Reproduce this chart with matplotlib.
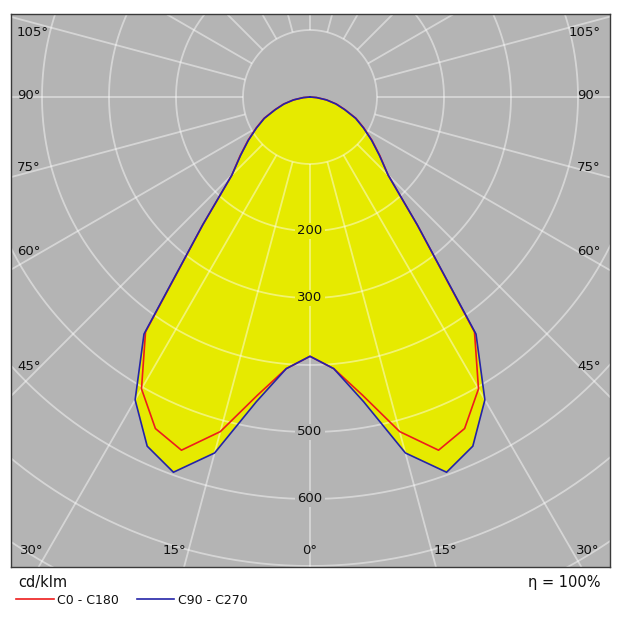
import numpy as np
import matplotlib
matplotlib.use("Agg")
import matplotlib.pyplot as plt
from matplotlib.path import Path

# ---- data (cd/klm) ----
gamma = [0, 5, 10, 15, 20, 25, 30, 35, 40, 45, 50, 55, 60, 65, 70, 75, 80, 85, 90]
c0_c180 = [387, 407, 452, 517, 561, 546, 503, 428, 249, 165, 136, 113, 93, 76, 56, 41, 25, 10, 0]
c90_c270 = [387, 407, 462, 550, 596, 575, 522, 432, 249, 165, 135, 112, 92, 75, 55, 40, 25, 10, 0]
series_labels = ["C0 - C180", "C90 - C270"]
radial_ticks = [200, 300, 500, 600]
side_angle_labels = [105, 90, 75, 60, 45]
bottom_angle_labels = [30, 15, 0, 15, 30]
unit_label = "cd/klm"
eta_label = "η = 100%"

# ---- style ----
BG = "#b4b4b4"
YELLOW = "#e6ea00"
RED = "#ee1c1c"
BLUE = "#2424a8"

W, H = 624, 640
fig = plt.figure(figsize=(W / 100, H / 100), dpi=100)
fig.patch.set_facecolor("white")

# axes pixel box
L_px, R_px, T_px, B_px = 11, 610, 14, 566.5
cx_px, cy_px, scale = 310.0, 97.0, 0.67
ax = fig.add_axes([L_px / W, 1 - B_px / H, (R_px - L_px) / W, (B_px - T_px) / H])
ax.set_facecolor(BG)
ax.set_xlim(-(cx_px - L_px) / scale, (R_px - cx_px) / scale)
ax.set_ylim(-(B_px - cy_px) / scale, (cy_px - T_px) / scale)
ax.set_xticks([])
ax.set_yticks([])
for sp in ax.spines.values():
    sp.set_color("#3a3a3a")
    sp.set_linewidth(1.0)


def curve_xy(vals):
    g = np.deg2rad(np.array(gamma, dtype=float))
    v = np.array(vals, dtype=float)
    xl = -v[::-1] * np.sin(g[::-1])
    yl = -v[::-1] * np.cos(g[::-1])
    xr = v[1:] * np.sin(g[1:])
    yr = -v[1:] * np.cos(g[1:])
    return np.concatenate([xl, xr]), np.concatenate([yl, yr])


xb, yb = curve_xy(c90_c270)
xr, yr = curve_xy(c0_c180)

ax.fill(xb, yb, color=YELLOW, lw=0, zorder=1)
ax.fill(xr, yr, color=YELLOW, lw=0, zorder=1)

# ---- grid ----
gc = dict(color="white", alpha=0.45, lw=1.3, zorder=2, solid_capstyle="butt")
t = np.linspace(0, 2 * np.pi, 721)
for r in range(100, 900, 100):
    ax.plot(r * np.cos(t), r * np.sin(t), **gc)
for a in range(0, 360, 15):
    ar = np.deg2rad(a)
    ax.plot([100 * np.sin(ar), 1200 * np.sin(ar)], [-100 * np.cos(ar), -1200 * np.cos(ar)], **gc)

# ---- curves ----
l_red, = ax.plot(xr, yr, color=RED, lw=1.2, zorder=3)
l_blue, = ax.plot(xb, yb, color=BLUE, lw=1.2, zorder=4)

# ---- radial labels ----
blue_path = Path(np.column_stack([xb, yb]))
for r in radial_ticks:
    inside = blue_path.contains_point((0, -r))
    ax.text(0, -r, str(r), ha="center", va="center", fontsize=9.5, color="#111111", zorder=5,
            bbox=dict(boxstyle="square,pad=0.15", fc=YELLOW if inside else BG, ec="none"))

# ---- angle labels ----
def px_to_data(px, py):
    return (px - cx_px) / scale, (cy_px - py) / scale

side_y_px = [33, 96, 168, 252, 367]
for lab, py in zip(side_angle_labels, side_y_px):
    x0, y0 = px_to_data(17, py)
    ax.text(x0, y0, f"{lab}°", ha="left", va="center", fontsize=9.5, color="#111111", zorder=5)
    x1, y1 = px_to_data(601, py)
    ax.text(x1, y1, f"{lab}°", ha="right", va="center", fontsize=9.5, color="#111111", zorder=5)

bottom_x_px = [32, 174.5, 310, 445.5, 588]
for lab, px in zip(bottom_angle_labels, bottom_x_px):
    x0, y0 = px_to_data(px, 550)
    ax.text(x0, y0, f"{lab}°", ha="center", va="center", fontsize=9.5, color="#111111", zorder=5)

# ---- texts below ----
fig.text(18 / W, 1 - 583 / H, unit_label, ha="left", va="center", fontsize=10.5, color="#111111")
fig.text(600 / W, 1 - 582 / H, eta_label, ha="right", va="center", fontsize=10.5, color="#111111")

leg = fig.legend([l_red, l_blue], series_labels, loc="center left",
                 bbox_to_anchor=(16 / W, 1 - 600 / H), bbox_transform=fig.transFigure,
                 ncol=2, frameon=False, borderpad=0, borderaxespad=0, handlelength=3.0,
                 handletextpad=0.3, columnspacing=1.4, fontsize=9)
for txt in leg.get_texts():
    txt.set_color("#111111")

fig.savefig("out.png", dpi=100)
